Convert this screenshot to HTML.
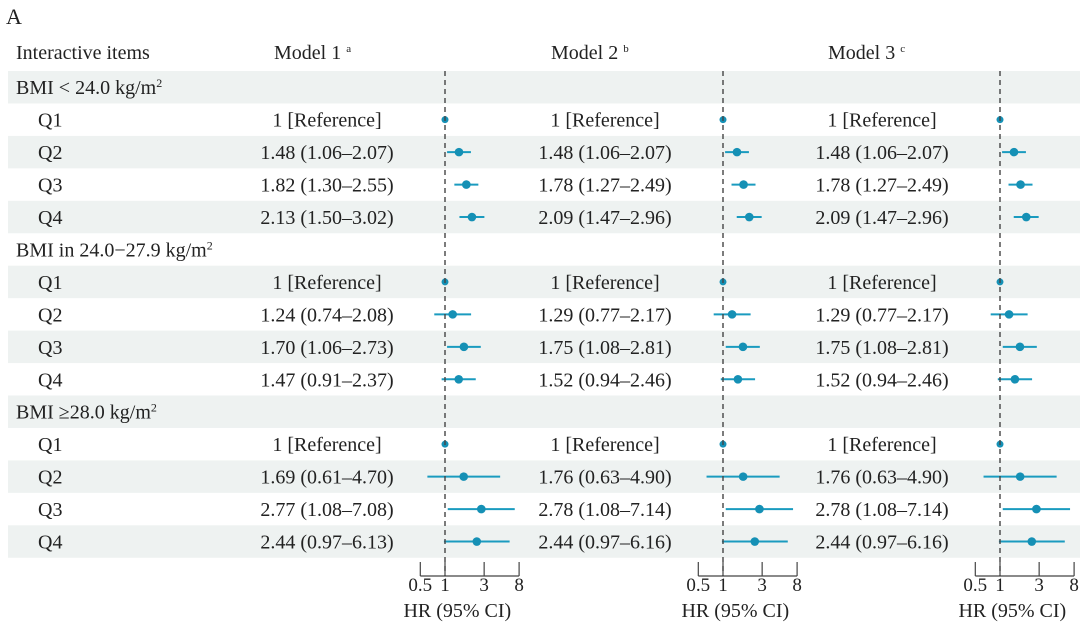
<!DOCTYPE html>
<html><head><meta charset="utf-8"><style>
body{margin:0;background:#fff;font-family:"Liberation Serif","Times New Roman",Times,"DejaVu Serif",serif}
svg{display:block}
svg text, svg tspan{font-family:"Liberation Serif","Times New Roman",Times,"DejaVu Serif",serif !important}
</style></head><body>
<svg id="s" width="1080" height="625" xmlns="http://www.w3.org/2000/svg" style="font-family:'Liberation Serif','Times New Roman',Times,serif" fill="#222">
<text x="6" y="24" font-size="22">A</text>
<text x="16" y="59" font-size="20">Interactive items</text>
<text x="274" y="59" font-size="20">Model 1 <tspan font-size="11" dy="-7">a</tspan></text>
<text x="551" y="59" font-size="20">Model 2 <tspan font-size="11" dy="-7">b</tspan></text>
<text x="828" y="59" font-size="20">Model 3 <tspan font-size="11" dy="-7">c</tspan></text>
</svg>
<script>
const s=document.getElementById('s');const NS='http://www.w3.org/2000/svg';
const FF="font-family:'Liberation Serif','Times New Roman',Times,serif";
function el(t,a,txt){const e=document.createElementNS(NS,t);for(const k in a)e.setAttribute(k,a[k]);if(t=='text')e.setAttribute('style',FF);if(txt!==undefined)e.innerHTML=txt;s.appendChild(e);return e;}
const y0=71,h=32.45;
const refs=[445,723,1000],ctr=[327,605,882],sc=24.7;
const rows=[
['BMI &lt; 24.0 kg/m<tspan font-size="12" dy="-7">2</tspan>',null],
['Q1',[[1],[1],[1]]],
['Q2',[[1.48,1.06,2.07],[1.48,1.06,2.07],[1.48,1.06,2.07]]],
['Q3',[[1.82,1.30,2.55],[1.78,1.27,2.49],[1.78,1.27,2.49]]],
['Q4',[[2.13,1.50,3.02],[2.09,1.47,2.96],[2.09,1.47,2.96]]],
['BMI in 24.0−27.9 kg/m<tspan font-size="12" dy="-7">2</tspan>',null],
['Q1',[[1],[1],[1]]],
['Q2',[[1.24,0.74,2.08],[1.29,0.77,2.17],[1.29,0.77,2.17]]],
['Q3',[[1.70,1.06,2.73],[1.75,1.08,2.81],[1.75,1.08,2.81]]],
['Q4',[[1.47,0.91,2.37],[1.52,0.94,2.46],[1.52,0.94,2.46]]],
['BMI ≥28.0 kg/m<tspan font-size="12" dy="-7">2</tspan>',null],
['Q1',[[1],[1],[1]]],
['Q2',[[1.69,0.61,4.70],[1.76,0.63,4.90],[1.76,0.63,4.90]]],
['Q3',[[2.77,1.08,7.08],[2.78,1.08,7.14],[2.78,1.08,7.14]]],
['Q4',[[2.44,0.97,6.13],[2.44,0.97,6.16],[2.44,0.97,6.16]]]];
rows.forEach((r,i)=>{if(i%2==0)el('rect',{x:8,y:y0+i*h,width:1072,height:h,fill:'#eef2f1'});});
const f=v=>v.toFixed(2);
rows.forEach((r,i)=>{const cy=y0+i*h+h/2;
 if(!r[1]){el('text',{x:16,y:cy+7,'font-size':20},r[0]);return;}
 el('text',{x:38,y:cy+7,'font-size':20},r[0]);
 r[1].forEach((d,j)=>{const R=refs[j];const X=v=>R+sc*Math.log2(v);
  let t=d.length==1?'1 [Reference]':f(d[0])+' ('+f(d[1])+'–'+f(d[2])+')';
  el('text',{x:ctr[j],y:cy+7,'font-size':20,'text-anchor':'middle'},t);
  if(d.length>1)el('line',{x1:X(d[1]),x2:X(d[2]),y1:cy,y2:cy,stroke:'#1a9bbf','stroke-width':2});
  el('circle',{cx:X(d[0]),cy:cy,r:d.length==1?3.5:4.3,fill:'#1590b5'});
 });
});
refs.forEach(R=>{
 el('line',{x1:R,x2:R,y1:71,y2:576,stroke:'#444','stroke-width':1.4,'stroke-dasharray':'5,4'});
 el('line',{x1:R-sc,x2:R+3*sc,y1:576,y2:576,stroke:'#444','stroke-width':1.2});
 [[0.5,'0.5'],[1,'1'],[3,'3'],[8,'8']].forEach(([v,l])=>{const x=R+sc*Math.log2(v);
  el('line',{x1:x,x2:x,y1:562,y2:576,stroke:'#444','stroke-width':1.2});
  el('text',{x:x,y:591,'font-size':19,'text-anchor':'middle'},l);});
 el('text',{x:R+sc*0.5,y:617,'font-size':20,'text-anchor':'middle'},'HR (95% CI)');
});
</script>
</body></html>
